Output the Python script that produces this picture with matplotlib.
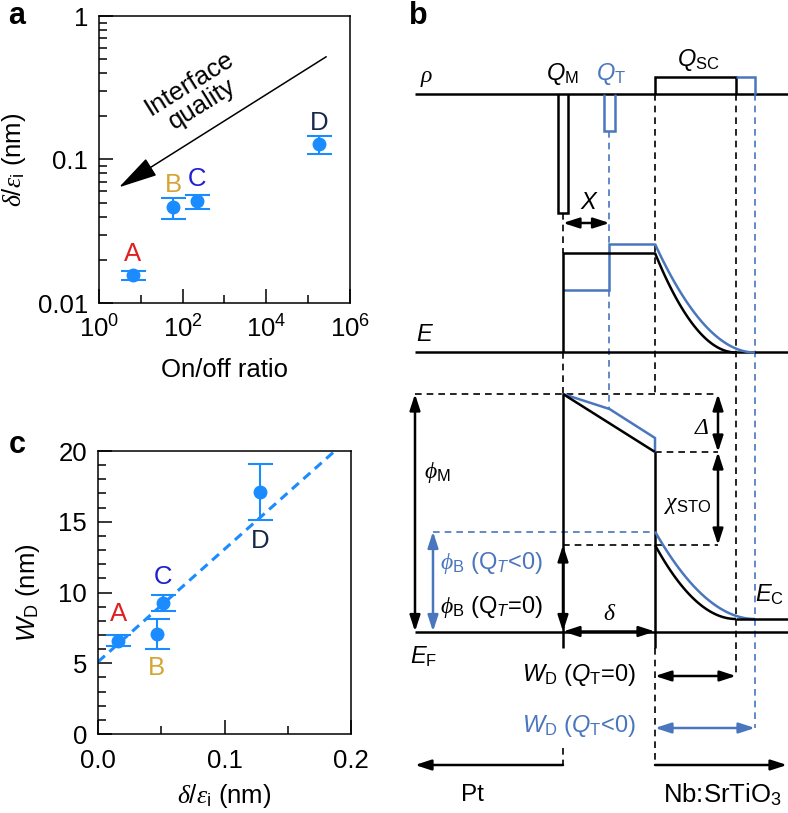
import matplotlib
matplotlib.use('Agg')
import matplotlib.pyplot as plt
import numpy as np
from matplotlib.ticker import FixedLocator, FixedFormatter, NullFormatter, LogFormatterMathtext, LogLocator

plt.rcParams['font.family'] = ['Liberation Sans', 'DejaVu Sans']
plt.rcParams['mathtext.fontset'] = 'custom'
plt.rcParams['mathtext.rm'] = 'Liberation Sans'
plt.rcParams['mathtext.it'] = 'Liberation Serif:italic'
plt.rcParams['mathtext.sf'] = 'Liberation Sans:italic'
plt.rcParams['font.size'] = 17

W, H = 788, 813
FS = 17       # panel b text
FS_AX = 18.5  # panels a and c
BLUE_PT = '#1a8cff'
BLUE_LN = '#4a76be'

# ---- data: panels a and c
samples = ['A', 'B', 'C', 'D']
sample_colors = ['#e02020', '#d4a530', '#1e1ed2', '#16284a']

onoff = [6.5, 59, 220, 1.8e5]
d_eps = [0.0157, 0.0467, 0.0514, 0.1276]
d_eps_lo = [0.0145, 0.0385, 0.0454, 0.1087]
d_eps_hi = [0.0168, 0.0540, 0.0570, 0.1460]

c_x = [0.016, 0.0464, 0.0516, 0.128]
wd = [6.6, 7.1, 9.25, 17.1]
wd_err = [0.37, 1.06, 0.58, 1.98]
fit_x = [0.0, 0.2]
fit_b, fit_m = 5.1, 79.6

arrow_tail = (2.7e5, 0.52)
arrow_tip = (3.0, 0.064)

# label offsets (points) above/below the markers
a_lab_off = [(0, 15), (0, 16), (0, 15.5), (0, 15.5)]
c_lab_off = [(0, 19), (0, -25), (0, 19), (0, -35)]

# ---- schematic geometry for panel b (figure pixels)
X_L, X_R = 415, 788
X_M = 563            # metal / interface layer edge
X_QM = (558, 568)
X_T = 609.5
X_QT = (604, 615)
X_S = 655            # interface layer / SrTiO3 edge
X_W0, X_W1 = 736, 755
X_ARR = 718          # Delta / chi arrows
X_PHIM, X_PHIB1 = 415, 433

Y_RHO = 94
Y_QM_BOT = 213
Y_QT_BOT = 131.5
Y_QSC = 77
Y_X = 223
Y_E0, Y_E1, Y_E1_STEP = 253, 244, 290
Y_EAX = 352.5
Y_VAC = 394
Y_T_KINK = 409
Y_CB1 = 438
Y_CB0 = 452
Y_EC0, Y_EC1 = 545, 531.5
Y_EC = 619
Y_EF = 631.5
Y_BOT = 648
Y_WD0, Y_WD1 = 676, 728
Y_REG = 765

fig = plt.figure(figsize=(W / 100, H / 100), dpi=100)

# ---------------- panel b (drawn in pixel coords over the whole figure)
axb = fig.add_axes([0, 0, 1, 1])
axb.set_xlim(0, W)
axb.set_ylim(H, 0)
axb.axis('off')

LW = 1.8
DASH = (0, (4, 3))


def line(xs, ys, c='k', lw=LW, ls='-'):
    axb.plot(xs, ys, color=c, lw=lw, ls=ls, solid_capstyle='butt',
             solid_joinstyle='miter')


def dline(xs, ys, c='k'):
    line(xs, ys, c=c, lw=1.2, ls=DASH)


def arrow(p0, p1, c='k', style='<|-|>'):
    axb.annotate('', xy=p1, xytext=p0,
                 arrowprops=dict(arrowstyle=style + ',head_length=0.8,head_width=0.26',
                                 color=c, lw=LW, shrinkA=0, shrinkB=0,
                                 mutation_scale=12))


# rho
line([X_L, X_R], [Y_RHO, Y_RHO])
line([X_QM[0], X_QM[0], X_QM[1], X_QM[1]], [Y_RHO, Y_QM_BOT, Y_QM_BOT, Y_RHO])
line([X_QT[0], X_QT[0], X_QT[1], X_QT[1]], [Y_RHO, Y_QT_BOT, Y_QT_BOT, Y_RHO], c=BLUE_LN)
line([X_S, X_S, X_W0, X_W0], [Y_RHO, Y_QSC, Y_QSC, Y_RHO])
line([X_W0, X_W1, X_W1], [Y_QSC, Y_QSC, Y_RHO], c=BLUE_LN)

# vertical guides
dline([X_M, X_M], [Y_QM_BOT, Y_E0])
dline([X_M, X_M], [Y_EAX, Y_VAC])
dline([X_M, X_M], [Y_REG - 17, Y_REG])
dline([X_S, X_S], [Y_RHO, Y_VAC])
dline([X_S, X_S], [Y_BOT, Y_REG])
dline([X_W0, X_W0], [Y_RHO, Y_WD0])
dline([X_W1, X_W1], [Y_RHO, Y_WD1], c=BLUE_LN)
dline([X_T, X_T], [Y_QT_BOT, Y_E1], c=BLUE_LN)
dline([X_T, X_T], [Y_E1_STEP, Y_T_KINK], c=BLUE_LN)

arrow((X_M, Y_X), (X_T, Y_X))

# electric field
line([X_L, X_R], [Y_EAX, Y_EAX])
t = np.linspace(0, 1, 60)
line(X_S + (X_W1 - X_S) * t, Y_EAX - (Y_EAX - Y_E1) * (1 - t) ** 2, c=BLUE_LN)
line([X_M, X_T, X_T, X_S], [Y_E1_STEP, Y_E1_STEP, Y_E1, Y_E1], c=BLUE_LN)
line([X_M, X_M, X_S], [Y_EAX, Y_E0, Y_E0])
line(X_S + (X_W0 - X_S) * t, Y_EAX - (Y_EAX - Y_E0) * (1 - t) ** 2)

# band diagram
dline([X_L, X_ARR], [Y_VAC, Y_VAC])
dline([X_S, X_ARR], [Y_CB0, Y_CB0])
dline([X_M, X_ARR], [Y_EC0, Y_EC0])
dline([X_PHIB1, X_S], [Y_EC1, Y_EC1], c=BLUE_LN)
line([X_M, X_T, X_S, X_S], [Y_VAC, Y_T_KINK, Y_CB1, Y_CB0], c=BLUE_LN)
line([X_M, X_S], [Y_VAC, Y_CB0])
line([X_M, X_M], [Y_VAC, Y_BOT])
line([X_S, X_S], [Y_CB0, Y_BOT])
line([X_L, X_R], [Y_EF, Y_EF])
line(X_S + (X_W1 - X_S) * t, Y_EC - (Y_EC - Y_EC1) * (1 - t) ** 2, c=BLUE_LN)
line(X_S + (X_W0 - X_S) * t, Y_EC - (Y_EC - Y_EC0) * (1 - t) ** 2)
line([X_W0, X_R], [Y_EC, Y_EC])

arrow((X_ARR, Y_VAC), (X_ARR, Y_CB0))
arrow((X_ARR, Y_CB0), (X_ARR, Y_EC0))
arrow((X_PHIM, Y_VAC), (X_PHIM, Y_EF))
arrow((X_PHIB1, Y_EC1), (X_PHIB1, Y_EF), c=BLUE_LN)
arrow((X_M, Y_EC0), (X_M, Y_EF))
arrow((X_M, Y_EF), (X_S, Y_EF))
arrow((X_S, Y_WD0), (X_W0, Y_WD0))
arrow((X_S, Y_WD1), (X_W1, Y_WD1), c=BLUE_LN)
arrow((X_M, Y_REG), (X_L, Y_REG), style='-|>')
arrow((X_S, Y_REG), (X_R - 1, Y_REG), style='-|>')

# panel b labels
kw = dict(fontsize=FS, va='center')
axb.text(418, 16, 'b', fontsize=22, fontweight='bold', va='center', ha='center')
axb.text(427, 78, r'$\rho$', ha='center', **kw)
axb.text(562, 74, r'$\mathsf{Q}_\mathrm{M}$', ha='center', **kw)
axb.text(611, 74, r'$\mathsf{Q}_\mathrm{T}$', ha='center', color=BLUE_LN, **kw)
axb.text(698, 60, r'$\mathsf{Q}_\mathrm{SC}$', ha='center', **kw)
axb.text(589, 203, r'$\mathsf{X}$', ha='center', **kw)
axb.text(425, 335, r'$\mathsf{E}$', ha='center', **kw)
axb.text(702, 428, 'Δ', ha='center', fontfamily='Liberation Serif',
         fontstyle='italic', **kw)
axb.text(424, 472, r'$\phi_\mathrm{M}$', ha='left', **kw)
axb.text(688, 505, r'$\chi_\mathrm{STO}$', ha='center', **kw)
axb.text(440, 563, r'$\phi_\mathrm{B}$ (Q$_\mathsf{T}$<0)', ha='left', color=BLUE_LN, **kw)
axb.text(440, 607, r'$\phi_\mathrm{B}$ (Q$_\mathsf{T}$=0)', ha='left', **kw)
axb.text(610, 614, r'$\delta$', ha='center', **kw)
axb.text(770, 595, r'$\mathsf{E}_\mathrm{C}$', ha='center', **kw)
axb.text(424, 657, r'$\mathsf{E}_\mathrm{F}$', ha='center', **kw)
axb.text(636, 675, r'$\mathsf{W}_\mathrm{D}$ ($\mathsf{Q}_\mathrm{T}$=0)', ha='right', **kw)
axb.text(636, 726, r'$\mathsf{W}_\mathrm{D}$ ($\mathsf{Q}_\mathrm{T}$<0)', ha='right',
         color=BLUE_LN, **kw)
axb.text(472, 795, 'Pt', ha='center', fontsize=17.5, va='center')
axb.text(722, 795, r'Nb:SrTiO$_3$', ha='center', fontsize=18.5, va='center')

# ---------------- panel a
axa = fig.add_axes([99 / W, 1 - 303 / H, 251 / W, 287 / H])
axa.set_xscale('log')
axa.set_yscale('log')
axa.set_xlim(1, 1e6)
axa.set_ylim(0.01, 1)
axa.errorbar(onoff, d_eps,
             yerr=[np.subtract(d_eps, d_eps_lo), np.subtract(d_eps_hi, d_eps)],
             fmt='o', color=BLUE_PT, ms=9, capsize=9, elinewidth=1.5, capthick=1.5)
for s, c, x, y, off in zip(samples, sample_colors, onoff, d_eps, a_lab_off):
    axa.annotate(s, (x, y), xytext=off, textcoords='offset points',
                 ha='center', va='center', color=c, fontsize=FS_AX)
axa.annotate('', xy=arrow_tip, xytext=arrow_tail,
             arrowprops=dict(arrowstyle='-|>,head_length=1.75,head_width=0.45',
                             color='k', lw=1.1, shrinkA=0, shrinkB=0, mutation_scale=14))
axa.text(0.385, 0.73, 'Interface\nquality', transform=axa.transAxes, rotation=32,
         ha='center', va='center', fontsize=FS_AX, linespacing=1.0,
         rotation_mode='anchor')

axa.xaxis.set_major_locator(FixedLocator([1, 1e2, 1e4, 1e6]))
axa.xaxis.set_minor_locator(FixedLocator([1e1, 1e3, 1e5]))
axa.xaxis.set_major_formatter(LogFormatterMathtext())
axa.xaxis.set_minor_formatter(NullFormatter())
axa.yaxis.set_major_locator(FixedLocator([0.01, 0.1, 1]))
axa.yaxis.set_major_formatter(FixedFormatter(['0.01', '0.1', '1']))
axa.yaxis.set_minor_locator(LogLocator(subs=range(2, 10)))
axa.yaxis.set_minor_formatter(NullFormatter())
axa.tick_params(which='both', direction='in', top=False, right=False, width=1.1,
                labelsize=FS_AX)
axa.tick_params(which='major', length=10)
axa.tick_params(which='minor', length=5.5)
axa.tick_params(axis='y', pad=8)
axa.tick_params(axis='x', pad=9)
for sp in axa.spines.values():
    sp.set_linewidth(1.1)
axa.set_xlabel('On/off ratio', fontsize=FS_AX)
axa.set_ylabel(r'$\delta/\varepsilon_\mathrm{i}$ (nm)', fontsize=FS_AX)
axa.xaxis.set_label_coords(0.5, -0.19)
axa.yaxis.set_label_coords(-0.282, 0.5)
fig.text(17 / W, 1 - 16 / H, 'a', fontsize=22, fontweight='bold', ha='center', va='center')

# ---------------- panel c
axc = fig.add_axes([98 / W, 1 - 734 / H, 253 / W, 283 / H])
axc.set_xlim(0, 0.2)
axc.set_ylim(0, 20)
axc.plot(fit_x, [fit_b + fit_m * v for v in fit_x], color=BLUE_PT, lw=2.2,
         ls=(0, (3, 2)))
axc.errorbar(c_x, wd, yerr=wd_err, fmt='o', color=BLUE_PT, ms=9, capsize=9,
             elinewidth=1.5, capthick=1.5)
for s, c, x, y, off in zip(samples, sample_colors, c_x, wd, c_lab_off):
    axc.annotate(s, (x, y), xytext=off, textcoords='offset points',
                 ha='center', va='center', color=c, fontsize=FS_AX)
axc.xaxis.set_major_locator(FixedLocator([0, 0.1, 0.2]))
axc.xaxis.set_major_formatter(FixedFormatter(['0.0', '0.1', '0.2']))
axc.xaxis.set_minor_locator(FixedLocator([0.05, 0.15]))
axc.yaxis.set_major_locator(FixedLocator([0, 5, 10, 15, 20]))
axc.yaxis.set_minor_locator(FixedLocator(np.arange(1, 20)))
axc.tick_params(which='both', direction='in', top=False, right=False, width=1.1,
                labelsize=FS_AX)
axc.tick_params(which='major', length=10)
axc.tick_params(which='minor', length=5.5)
axc.tick_params(axis='y', pad=8)
axc.tick_params(axis='x', pad=11)
for sp in axc.spines.values():
    sp.set_linewidth(1.1)
axc.set_xlabel(r'$\delta/\varepsilon_\mathrm{i}$ (nm)', fontsize=FS_AX)
axc.set_ylabel(r'$\mathsf{W}_\mathrm{D}$ (nm)', fontsize=FS_AX)
axc.xaxis.set_label_coords(0.5, -0.17)
axc.yaxis.set_label_coords(-0.22, 0.5)
fig.text(17 / W, 1 - 445 / H, 'c', fontsize=22, fontweight='bold', ha='center', va='center')

fig.savefig('out.png', dpi=100)
